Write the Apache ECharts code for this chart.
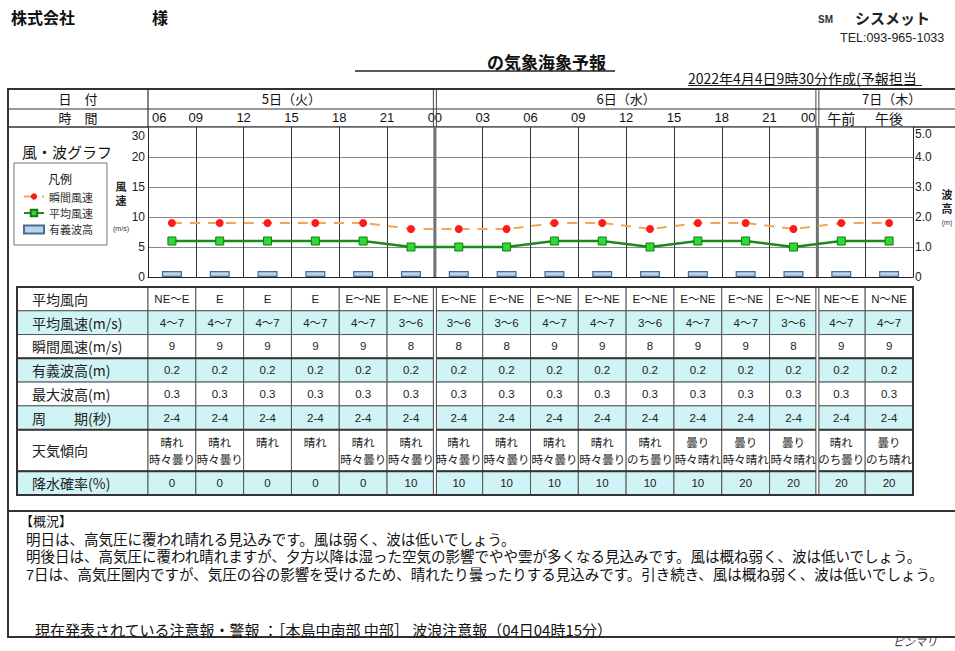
<!DOCTYPE html>
<html>
<head>
<meta charset="utf-8">
<script src="https://cdn.jsdelivr.net/npm/echarts@6/dist/echarts.min.js"></script>
<style>html,body{margin:0;padding:0;background:#fff}#c{width:955px;height:651px}</style>
</head>
<body>
<div id="c"></div>
<script>
// ---------------- data ----------------
const dayLabels = ['5日（火）', '6日（水）', '7日（木）'];
const dayColumnCounts = [6, 8, 2];
const boundaryTimes = ['06', '09', '12', '15', '18', '21', '00', '03', '06', '09', '12', '15', '18', '21', '00'];
const halfDayLabels = ['午前', '午後'];
const periodLabels = ['06', '09', '12', '15', '18', '21', '00', '03', '06', '09', '12', '15', '18', '21', '午前', '午後'];
const gustSpeed = [9, 9, 9, 9, 9, 8, 8, 8, 9, 9, 8, 9, 9, 8, 9, 9];
const meanSpeed = [6, 6, 6, 6, 6, 5, 5, 5, 6, 6, 5, 6, 6, 5, 6, 6];
const significantWave = [0.2, 0.2, 0.2, 0.2, 0.2, 0.2, 0.2, 0.2, 0.2, 0.2, 0.2, 0.2, 0.2, 0.2, 0.2, 0.2];
const maxWave = [0.3, 0.3, 0.3, 0.3, 0.3, 0.3, 0.3, 0.3, 0.3, 0.3, 0.3, 0.3, 0.3, 0.3, 0.3, 0.3];
const windAxisLabels = ['0', '5', '10', '15', '20', '30'];
const waveAxisLabels = ['0', '1.0', '2.0', '3.0', '4.0', '5.0'];
const legendNames = ['瞬間風速', '平均風速', '有義波高'];
const rowLabels = ['平均風向', '平均風速(m/s)', '瞬間風速(m/s)', '有義波高(m)', '最大波高(m)', '周　　期(秒)', '天気傾向', '降水確率(%)'];
const windDirection = ['NE～E', 'E', 'E', 'E', 'E～NE', 'E～NE', 'E～NE', 'E～NE', 'E～NE', 'E～NE', 'E～NE', 'E～NE', 'E～NE', 'E～NE', 'NE～E', 'N～NE'];
const meanSpeedRange = ['4～7', '4～7', '4～7', '4～7', '4～7', '3～6', '3～6', '3～6', '4～7', '4～7', '3～6', '4～7', '4～7', '3～6', '4～7', '4～7'];
const wavePeriod = ['2-4', '2-4', '2-4', '2-4', '2-4', '2-4', '2-4', '2-4', '2-4', '2-4', '2-4', '2-4', '2-4', '2-4', '2-4', '2-4'];
const weatherTrend = ['晴れ\n時々曇り', '晴れ\n時々曇り', '晴れ', '晴れ', '晴れ\n時々曇り', '晴れ\n時々曇り', '晴れ\n時々曇り', '晴れ\n時々曇り', '晴れ\n時々曇り', '晴れ\n時々曇り', '晴れ\nのち曇り', '曇り\n時々晴れ', '曇り\n時々晴れ', '曇り\n時々晴れ', '晴れ\nのち曇り', '曇り\nのち晴れ'];
const rainProbability = [0, 0, 0, 0, 0, 10, 10, 10, 10, 10, 10, 10, 20, 20, 20, 20];
const summaryTitle = '【概況】';
const summaryLines = [
  ' 明日は、高気圧に覆われ晴れる見込みです。風は弱く、波は低いでしょう。',
  ' 明後日は、高気圧に覆われ晴れますが、夕方以降は湿った空気の影響でやや雲が多くなる見込みです。風は概ね弱く、波は低いでしょう。',
  ' 7日は、高気圧圏内ですが、気圧の谷の影響を受けるため、晴れたり曇ったりする見込みです。引き続き、風は概ね弱く、波は低いでしょう。'
];
const warningText = '現在発表されている注意報・警報 ：［本島中南部 中部］ 波浪注意報（04日04時15分）';

// ---------------- layout ----------------
const JP = "'Noto Sans CJK JP','Noto Sans',sans-serif";
const NUM = "'Liberation Sans','Noto Sans CJK JP',sans-serif";
const TIGHT = "'Liberation Sans','Noto Sans CJK JP',sans-serif";
const PLOT_LEFT = 148, PLOT_WIDTH = 765;
const CHART_TOP = 127, CHART_H = 150;
const HEADER_TOP = 89, HEADER_H = 38;
const TABLE_TOP = 287, TABLE_H = 208, TABLE_LEFT = 17;
const FRAME_LEFT = 8, FRAME_RIGHT = 966, FRAME_BOTTOM = 637, SUMMARY_TOP = 511;
const ROW_UNITS = [1, 1, 1, 1, 1, 1, 1.75, 1];
const WEATHER_ROW = 6;
const CYAN = '#d0f3f6';
const WIND_MAX = 25, WAVE_MAX = 5;

const totalCols = dayColumnCounts.reduce((a, b) => a + b, 0);
const dayStarts = [];
{ let acc = 0; dayColumnCounts.forEach(n => { dayStarts.push(acc); acc += n; }); }
const rowStart = [];
let TOTAL_UNITS = 0;
ROW_UNITS.forEach(h => { rowStart.push(TOTAL_UNITS); TOTAL_UNITS += h; });

const tableRows = [
  windDirection,
  meanSpeedRange,
  gustSpeed.map(String),
  significantWave.map(v => v.toFixed(1)),
  maxWave.map(v => v.toFixed(1)),
  wavePeriod,
  weatherTrend,
  rainProbability.map(String)
];

// table cells
const tableCells = [];
rowLabels.forEach((lab, r) => {
  tableCells.push({ c: -1, r: r, text: lab });
  tableRows[r].forEach((v, c) => tableCells.push({ c: c, r: r, text: v }));
});

function renderTableCell(params, api) {
  const cell = tableCells[params.dataIndex];
  const y0 = rowStart[cell.r], y1 = y0 + ROW_UNITS[cell.r];
  const top = api.coord([0, y0])[1], bottom = api.coord([0, y1])[1];
  const left = cell.c < 0 ? TABLE_LEFT : api.coord([cell.c, y0])[0];
  const right = api.coord([cell.c + 1, y0])[0];
  const shaded = cell.r % 2 === 1;
  const isLabel = cell.c < 0;
  const topAligned = cell.r === WEATHER_ROW && !isLabel;
  return {
    type: 'group',
    children: [
      { type: 'rect', shape: { x: left, y: top, width: right - left, height: bottom - top },
        style: { fill: shaded ? CYAN : '#ffffff', stroke: '#555', lineWidth: 1 } },
      { type: 'text', style: {
          text: cell.text,
          x: isLabel ? left + 15 : (left + right) / 2,
          y: topAligned ? top + 5 : (top + bottom) / 2,
          align: isLabel ? 'left' : 'center',
          verticalAlign: topAligned ? 'top' : 'middle',
          fontSize: isLabel ? 14 : 11.5,
          fontFamily: isLabel ? JP : NUM,
          lineHeight: 17,
          fill: '#222'
        } }
    ]
  };
}

// table rules (thick lines, day separators, border)
const tableRules = [];
[3, 6, 7].forEach(r => tableRules.push({ kind: 'h', r: r }));
dayStarts.slice(1).forEach(p => tableRules.push({ kind: 'v', pos: p }));
tableRules.push({ kind: 'box' });

function renderTableRule(params, api) {
  const it = tableRules[params.dataIndex];
  const top = api.coord([0, 0])[1], bottom = api.coord([0, TOTAL_UNITS])[1];
  const right = api.coord([totalCols, 0])[0];
  if (it.kind === 'h') {
    const y = api.coord([0, rowStart[it.r]])[1];
    return { type: 'line', shape: { x1: TABLE_LEFT, y1: y, x2: right, y2: y }, style: { stroke: '#333', lineWidth: 2 } };
  }
  if (it.kind === 'v') {
    const x = api.coord([it.pos, 0])[0];
    return { type: 'group', children: [
      { type: 'rect', shape: { x: x - 1.5, y: top, width: 3, height: bottom - top }, style: { fill: '#fff' } },
      { type: 'line', shape: { x1: x - 1.5, y1: top, x2: x - 1.5, y2: bottom }, style: { stroke: '#444', lineWidth: 1 } },
      { type: 'line', shape: { x1: x + 1.5, y1: top, x2: x + 1.5, y2: bottom }, style: { stroke: '#444', lineWidth: 1 } }
    ] };
  }
  return { type: 'rect', shape: { x: TABLE_LEFT, y: top, width: right - TABLE_LEFT, height: bottom - top },
    style: { fill: 'none', stroke: '#333', lineWidth: 2 } };
}

// header items
const headerItems = [];
headerItems.push({ kind: 'label', row: 0, text: '日　付' });
headerItems.push({ kind: 'label', row: 1, text: '時　間' });
dayLabels.forEach((t, d) => headerItems.push({ kind: 'day', start: dayStarts[d], end: dayStarts[d] + dayColumnCounts[d], text: t }));
boundaryTimes.forEach((t, i) => headerItems.push({ kind: 'time', pos: i, text: t }));
halfDayLabels.forEach((t, i) => headerItems.push({ kind: 'half', pos: totalCols - halfDayLabels.length + i + 0.5, text: t }));
headerItems.push({ kind: 'sep', pos: 0, dbl: false });
dayStarts.slice(1).forEach(p => headerItems.push({ kind: 'sep', pos: p, dbl: true }));

function renderHeader(params, api) {
  const it = headerItems[params.dataIndex];
  const rowY = r => (api.coord([0, r])[1] + api.coord([0, r + 1])[1]) / 2;
  const txt = (text, x, y, align, size, fam) => ({ type: 'text', style: { text, x, y, align, verticalAlign: 'middle', fontSize: size, fontFamily: fam, fill: '#111' } });
  if (it.kind === 'label') return txt(it.text, (FRAME_LEFT + api.coord([0, 0])[0]) / 2, rowY(it.row), 'center', 13, JP);
  if (it.kind === 'day') {
    const x0 = api.coord([it.start, 0])[0];
    const x1 = it.end >= totalCols ? FRAME_RIGHT : api.coord([it.end, 0])[0];
    return txt(it.text, (x0 + x1) / 2, rowY(0), 'center', 13, JP);
  }
  if (it.kind === 'time') {
    const x = api.coord([it.pos, 0])[0];
    if (it.pos === 0) return txt(it.text, x + 4, rowY(1), 'left', 13, NUM);
    if (it.pos === boundaryTimes.length - 1) return txt(it.text, x - 2, rowY(1), 'right', 13, NUM);
    return txt(it.text, x, rowY(1), 'center', 13, NUM);
  }
  if (it.kind === 'half') return txt(it.text, api.coord([it.pos, 0])[0], rowY(1), 'center', 14, JP);
  const x = api.coord([it.pos, 0])[0];
  const top = api.coord([0, 0])[1], bottom = api.coord([0, 2])[1];
  if (!it.dbl) return { type: 'line', shape: { x1: x, y1: top, x2: x, y2: bottom }, style: { stroke: '#333', lineWidth: 1.2 } };
  return { type: 'group', children: [
    { type: 'line', shape: { x1: x - 1.5, y1: top, x2: x - 1.5, y2: bottom }, style: { stroke: '#444', lineWidth: 1 } },
    { type: 'line', shape: { x1: x + 1.5, y1: top, x2: x + 1.5, y2: bottom }, style: { stroke: '#444', lineWidth: 1 } }
  ] };
}

// chart day separators
const chartSeparators = dayStarts.slice(1);
function renderChartSep(params, api) {
  const x = api.coord([chartSeparators[params.dataIndex], 0])[0];
  const top = api.coord([0, WIND_MAX])[1], bottom = api.coord([0, 0])[1];
  return { type: 'line', shape: { x1: x, y1: top, x2: x, y2: bottom }, style: { stroke: '#707070', lineWidth: 3 } };
}

// ---------------- graphics (static text / frame) ----------------
const T = (x, y, text, size, extra) => ({ type: 'text', x: x, y: y, style: Object.assign({ text: text, fontSize: size, fontFamily: JP, fill: '#111', verticalAlign: 'middle' }, extra || {}) });
const graphics = [
  T(11, 17, '株式会社', 16, { fontWeight: 'bold' }),
  T(152, 17, '様', 16, { fontWeight: 'bold' }),
  T(818, 19, 'SM', 10, { fontWeight: 'bold', fontFamily: NUM, fill: '#333' }),
  T(855, 17, 'シスメット', 15, { fontWeight: 'bold', fill: '#222' }),
  T(840, 38, 'TEL:093-965-1033', 12.5, { fontFamily: NUM, fill: '#222' }),
  T(487, 61, 'の気象海象予報', 17, { fontWeight: 'bold' }),
  { type: 'line', shape: { x1: 355, y1: 71, x2: 615, y2: 71 }, style: { stroke: '#222', lineWidth: 1.5 } },
  T(688, 78, '2022年4月4日9時30分作成(予報担当', 14),
  { type: 'line', shape: { x1: 688, y1: 85.5, x2: 922, y2: 85.5 }, style: { stroke: '#222', lineWidth: 1 } },
  // frame
  { type: 'rect', shape: { x: FRAME_LEFT, y: HEADER_TOP, width: FRAME_RIGHT - FRAME_LEFT, height: FRAME_BOTTOM - HEADER_TOP }, style: { fill: 'none', stroke: '#333', lineWidth: 2 } },
  { type: 'line', shape: { x1: FRAME_LEFT, y1: 109, x2: FRAME_RIGHT, y2: 109 }, style: { stroke: '#333', lineWidth: 1 } },
  { type: 'line', shape: { x1: FRAME_LEFT, y1: CHART_TOP, x2: FRAME_RIGHT, y2: CHART_TOP }, style: { stroke: '#333', lineWidth: 1.5 } },
  { type: 'line', shape: { x1: FRAME_LEFT, y1: SUMMARY_TOP, x2: FRAME_RIGHT, y2: SUMMARY_TOP }, style: { stroke: '#333', lineWidth: 2 } },
  // chart labels
  T(22, 151, '風・波グラフ', 15),
  Object.assign(T(60, 178, '凡例', 12, { align: 'center' }), { z: 10 }),
  T(121, 186.5, '風', 11, { fontWeight: 'bold', align: 'center', fill: '#222', fontFamily: TIGHT }),
  T(121, 200.5, '速', 11, { fontWeight: 'bold', align: 'center', fill: '#222', fontFamily: TIGHT }),
  T(121, 228, '(m/s)', 7, { fontFamily: NUM, align: 'center', fill: '#333' }),
  T(947, 194.5, '波', 11, { fontWeight: 'bold', align: 'center', fill: '#222', fontFamily: TIGHT }),
  T(947, 208.5, '高', 11, { fontWeight: 'bold', align: 'center', fill: '#222', fontFamily: TIGHT }),
  T(947, 222, '(m)', 7, { fontFamily: NUM, align: 'center', fill: '#333' }),
  // summary
  T(20, 521.5, summaryTitle, 13, { fontFamily: TIGHT }),
  T(22, 539.5, summaryLines[0], 14.5, { fontFamily: TIGHT }),
  T(22, 557, summaryLines[1], 14.5, { fontFamily: TIGHT }),
  T(22, 574.5, summaryLines[2], 14.5, { fontFamily: TIGHT }),
  T(35, 629, warningText, 15),
  T(893, 641, 'ピンマリ', 11, { fontStyle: 'italic', fill: '#333' })
];

// ---------------- option ----------------
const chart = echarts.init(document.getElementById('c'), null, { renderer: 'svg' });
const option = {
  animation: false,
  backgroundColor: '#ffffff',
  textStyle: { fontFamily: JP },
  grid: [
    { left: PLOT_LEFT, top: CHART_TOP, width: PLOT_WIDTH, height: CHART_H, outerBoundsMode: 'none', containLabel: false },
    { left: PLOT_LEFT, top: HEADER_TOP, width: PLOT_WIDTH, height: HEADER_H, outerBoundsMode: 'none', containLabel: false },
    { left: PLOT_LEFT, top: TABLE_TOP, width: PLOT_WIDTH, height: TABLE_H, outerBoundsMode: 'none', containLabel: false }
  ],
  legend: {
    data: [{ name: legendNames[0] }, { name: legendNames[1] }, { name: legendNames[2], icon: 'rect' }],
    orient: 'vertical', left: 14, top: 163,
    padding: [28, 14, 10, 9],
    itemWidth: 20, itemHeight: 8, itemGap: 5.5,
    borderColor: '#777', borderWidth: 1, backgroundColor: '#fff',
    textStyle: { fontSize: 11, fontFamily: JP, color: '#333' },
    selectedMode: false
  },
  xAxis: [
    { type: 'category', gridIndex: 0, data: periodLabels, boundaryGap: true,
      axisLabel: { show: false }, axisTick: { show: false, interval: 0 },
      axisLine: { show: true, lineStyle: { color: '#222', width: 1 } },
      splitLine: { show: true, interval: 0, lineStyle: { color: '#333', width: 1 } } },
    { type: 'value', gridIndex: 0, min: 0, max: totalCols, show: false },
    { type: 'value', gridIndex: 1, min: 0, max: totalCols, show: false },
    { type: 'value', gridIndex: 2, min: 0, max: totalCols, show: false }
  ],
  yAxis: [
    { type: 'value', gridIndex: 0, min: 0, max: WIND_MAX, interval: 5, position: 'left',
      axisLine: { show: true, lineStyle: { color: '#222' } }, axisTick: { show: false },
      splitLine: { show: true, lineStyle: { color: '#8a8a8a', width: 1 } },
      axisLabel: { margin: 3, fontSize: 12, fontFamily: NUM, color: '#222', showMaxLabel: true, showMinLabel: true,
        formatter: v => { const i = Math.round(v / 5); return i === windAxisLabels.length - 1 ? '{top|' + windAxisLabels[i] + '}' : windAxisLabels[i]; },
        rich: { top: { padding: [17, 0, 0, 0], fontSize: 12, fontFamily: NUM, color: '#222' } } } },
    { type: 'value', gridIndex: 0, min: 0, max: WAVE_MAX, interval: 1, position: 'right',
      axisLine: { show: true, lineStyle: { color: '#222' } }, axisTick: { show: false },
      splitLine: { show: false },
      axisLabel: { margin: 2, fontSize: 12, fontFamily: NUM, color: '#222', showMaxLabel: true, showMinLabel: true,
        formatter: v => { const i = Math.round(v); return i === waveAxisLabels.length - 1 ? '{top|' + waveAxisLabels[i] + '}' : waveAxisLabels[i]; },
        rich: { top: { padding: [13, 0, 0, 0], fontSize: 12, fontFamily: NUM, color: '#222' } } } },
    { type: 'value', gridIndex: 1, min: 0, max: 2, inverse: true, show: false },
    { type: 'value', gridIndex: 2, min: 0, max: TOTAL_UNITS, inverse: true, show: false }
  ],
  series: [
    { type: 'custom', name: 'daySep', xAxisIndex: 1, yAxisIndex: 0, silent: true, z: 3,
      data: chartSeparators.map(p => [p, 0]), renderItem: renderChartSep },
    { type: 'bar', name: legendNames[2], xAxisIndex: 0, yAxisIndex: 1, data: significantWave, barWidth: 20, z: 4,
      itemStyle: { color: '#b9d4ec', borderColor: '#4a6c90', borderWidth: 1.2 } },
    { type: 'line', name: legendNames[0], xAxisIndex: 0, yAxisIndex: 0, data: gustSpeed, z: 6,
      symbol: 'circle', symbolSize: 8,
      itemStyle: { color: '#ff1a1a' },
      lineStyle: { color: '#f4a55a', width: 2, type: [10, 8] } },
    { type: 'line', name: legendNames[1], xAxisIndex: 0, yAxisIndex: 0, data: meanSpeed, z: 5,
      symbol: 'rect', symbolSize: 8,
      itemStyle: { color: '#34d834', borderColor: '#157a15', borderWidth: 1 },
      lineStyle: { color: '#1b8a1b', width: 2.5 } },
    { type: 'custom', name: 'header', xAxisIndex: 2, yAxisIndex: 2, silent: true,
      data: headerItems.map(() => [0, 0]), renderItem: renderHeader },
    { type: 'custom', name: 'table', xAxisIndex: 3, yAxisIndex: 3, silent: true, z: 2,
      data: tableCells.map(c => [Math.max(c.c, 0), rowStart[c.r]]), renderItem: renderTableCell },
    { type: 'custom', name: 'tableRules', xAxisIndex: 3, yAxisIndex: 3, silent: true, z: 3,
      data: tableRules.map(() => [0, 0]), renderItem: renderTableRule }
  ],
  graphic: graphics
};
chart.setOption(option);
</script>
</body>
</html>
